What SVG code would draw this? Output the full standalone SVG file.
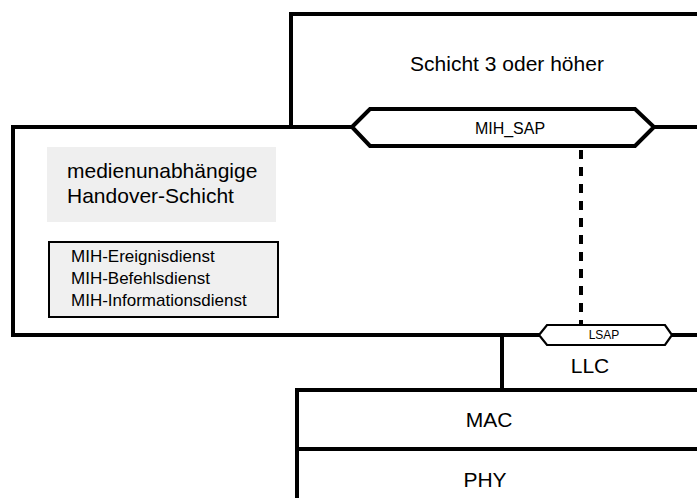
<svg xmlns="http://www.w3.org/2000/svg" width="697" height="498" viewBox="0 0 697 498">
  <style>
    .frame { fill: none; stroke: #000; stroke-width: 4; stroke-linecap: square; }
    .sap { fill: #fff; stroke: #000; stroke-width: 4; stroke-linejoin: miter; }
    .sap-thin { fill: #fff; stroke: #000; stroke-width: 2.2; }
    .lbl { font-family: "Liberation Sans", Arial, sans-serif; fill: #000; }
    .big { font-size: 21px; }
    .mid { font-size: 17px; }
    .small { font-size: 16px; }
    .tiny { font-size: 12px; }
  </style>
  <rect width="697" height="498" fill="#fff"/>

  <!-- Layer 3 and above -->
  <g id="layer3">
    <path class="frame" d="M291,127 V14 H699"/>
    <text class="lbl big" x="507" y="71" text-anchor="middle">Schicht 3 oder höher</text>
  </g>

  <!-- Media independent handover layer -->
  <g id="mih">
    <path class="frame" d="M352,127 H13 V335 H539"/>
    <path class="frame" d="M654,127 H699"/>
    <path class="frame" d="M672,335 H699"/>
    <rect x="47" y="147" width="229" height="75" fill="#efefef"/>
    <text class="lbl big" x="67" y="178">medienunabhängige</text>
    <text class="lbl big" x="67" y="203">Handover-Schicht</text>
  </g>

  <!-- MIH services -->
  <g id="services">
    <rect x="49" y="242" width="229" height="75" fill="#f0f0f0" stroke="#000" stroke-width="2"/>
    <text class="lbl mid" x="71" y="262">MIH-Ereignisdienst</text>
    <text class="lbl mid" x="71" y="284">MIH-Befehlsdienst</text>
    <text class="lbl mid" x="71" y="306">MIH-Informationsdienst</text>
  </g>

  <!-- Connectors -->
  <g id="connectors">
    <line x1="581" y1="150" x2="581" y2="326" stroke="#000" stroke-width="4" stroke-dasharray="9 8"/>
  </g>

  <!-- MIH service access point -->
  <g id="mih-sap">
    <polygon class="sap" points="352,127 370,109 635,109 654,127 635,146 370,146"/>
    <text class="lbl small" x="510" y="134" text-anchor="middle">MIH_SAP</text>
  </g>

  <!-- Link service access point -->
  <g id="lsap">
    <polygon class="sap-thin" points="539,335 547,325 665,325 672,335 665,345 547,345"/>
    <text class="lbl tiny" x="604" y="339" text-anchor="middle">LSAP</text>
  </g>

  <!-- LLC -->
  <g id="llc">
    <path class="frame" d="M502,335 V390"/>
    <text class="lbl big" x="590" y="373" text-anchor="middle">LLC</text>
  </g>

  <!-- MAC -->
  <g id="mac">
    <path class="frame" d="M297,500 V390 H699"/>
    <text class="lbl big" x="489" y="427" text-anchor="middle">MAC</text>
  </g>

  <!-- PHY -->
  <g id="phy">
    <path class="frame" d="M297,449 H699"/>
    <text class="lbl big" x="485" y="487" text-anchor="middle">PHY</text>
  </g>
</svg>
